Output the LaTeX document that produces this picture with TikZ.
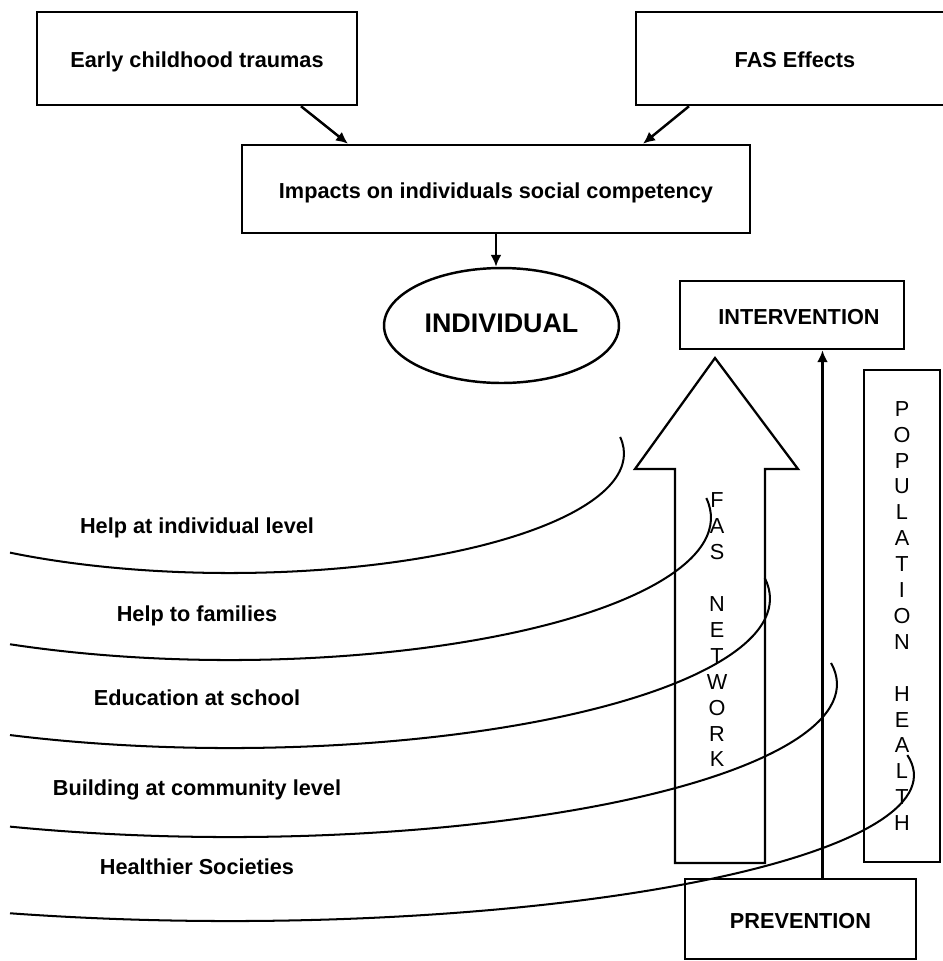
\documentclass[tikz,border=0pt]{standalone}
\usepackage{fontspec}
\setmainfont{Liberation Sans}
\usetikzlibrary{arrows.meta,shapes.geometric}

\begin{document}
\begin{tikzpicture}[x=0.02cm,y=-0.02cm,
    box/.style={draw,line width=1.4pt,inner sep=0pt,text height=1.08em,text depth=0pt,
      font=\fontsize{12.35}{14.74}\selectfont\bfseries},
    column/.style={align=center,inner sep=0pt,font=\fontsize{12.35}{14.74}\selectfont},
    lab/.style={inner sep=0pt,font=\fontsize{12.35}{14.74}\selectfont\bfseries},
    arr/.style={line width=1.4pt,-{Latex[length=2.4mm,width=2.2mm]}},
    curve/.style={line width=1.15pt}]
  \useasboundingbox (0,0) rectangle (943,961);
  % causes
  \node[box,minimum width=6.4cm,minimum height=1.86cm] (early) at (197,58.5) {Early childhood traumas};
  \node[box,minimum width=6.36cm,minimum height=1.86cm] (fas) at (795,58.5) {FAS Effects};
  \node[box,minimum width=10.16cm,minimum height=1.76cm] (impact) at (496,189) {Impacts on individuals social competency};
  \node[box,ellipse,minimum width=4.7cm,minimum height=2.3cm,text height=0.8em,
    font=\fontsize{15.3}{18}\selectfont\bfseries] (indiv) at (501.5,325.5) {INDIVIDUAL};
  \draw[arr] ([xshift=2.08cm]early.south) -- ([xshift=-2.96cm]impact.north);
  \draw[arr] ([xshift=-2.12cm]fas.south) -- ([xshift=2.94cm]impact.north);
  \draw[arr] (impact.south) -- (impact.south |- indiv.north);
  % right hand side
  \node[box,minimum width=4.48cm,minimum height=1.36cm] (interv) at (792,315) {\hspace*{0.28cm}INTERVENTION};
  \node[box,minimum width=4.62cm,minimum height=1.6cm] (prev) at (800.5,919) {PREVENTION};
  \node[box,column,text height=,minimum width=1.52cm,minimum height=9.84cm] (pophealth) at (902,616)
    {P\\O\\P\\U\\L\\A\\T\\I\\O\\N\\~\\H\\E\\A\\L\\T\\H};
  \draw[line width=1.3pt] (675,863) -- (675,469) -- (635,469) -- (715,358) -- (798,469)
    -- (765,469) -- (765,863) -- cycle;
  \node[column] (fasnet) at (717,630) {F\\A\\S\\~\\N\\E\\T\\W\\O\\R\\K};
  \draw[arr] ([xshift=0.44cm]prev.north) -- ([xshift=0.44cm]prev.north |- interv.south);
  % levels
  \foreach \cy/\rx/\ry in {453.6/394/119.4, 517.8/481/142.2, 598.7/540/149.3, 684.2/607/152.8, 775.3/684/145.7}
    \draw[curve] (10,{\cy+\ry*sqrt(1-(220/\rx)^2)}) arc[start angle={acos(-220/\rx)}, end angle=-8, x radius=\rx, y radius=\ry];
  \foreach \txt/\yy [count=\i] in {Help at individual level/528, Help to families/616, Education at school/698,
      Building at community level/790, Healthier Societies/867}
    \node[lab] (level\i) at (197,\yy) {\txt};
\end{tikzpicture}
\end{document}
